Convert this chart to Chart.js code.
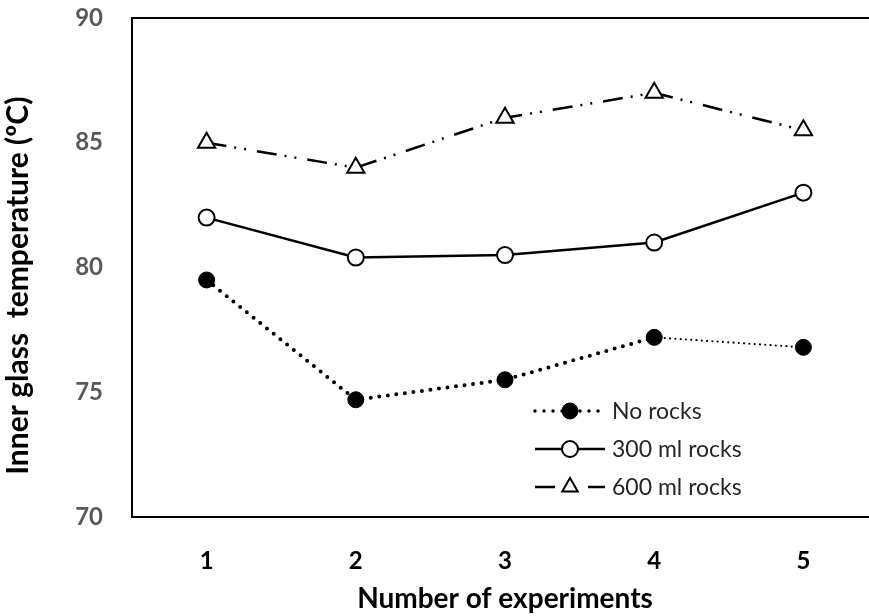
<!DOCTYPE html>
<html>
<head>
<meta charset="utf-8">
<script src="https://cdn.jsdelivr.net/npm/chart.js@4"></script>
<style>
  html, body { margin: 0; padding: 0; background: #fff; overflow: hidden; }
  #wrap { width: 878px; height: 616px; position: relative; }
</style>
</head>
<body>
<div id="wrap"><canvas id="chart"></canvas></div>
<script>
// data
const experiments = ['1', '2', '3', '4', '5'];
const noRocks = [79.5, 74.7, 75.5, 77.2, 76.8];
const rocks300 = [82.0, 80.4, 80.5, 81.0, 83.0];
const rocks600 = [85.0, 84.0, 86.0, 87.0, 85.5];
const seriesNames = ['No rocks', '300 ml rocks', '600 ml rocks'];
const yTicks = [70, 75, 80, 85, 90];

const font = "Lato, 'Open Sans', sans-serif";

// frame line along the top of the plot (right side is off screen)
const frame = {
  id: 'frame',
  afterDraw(chart) {
    const { ctx, chartArea: a } = chart;
    ctx.save();
    ctx.strokeStyle = '#000';
    ctx.lineWidth = 2;
    ctx.beginPath();
    ctx.moveTo(a.left - 1, a.top);
    ctx.lineTo(a.right + 2, a.top);
    ctx.stroke();
    ctx.restore();
  }
};

// legend drawn inside the plot, each row: line style + marker + label
const insideLegend = {
  id: 'insideLegend',
  afterDraw(chart) {
    const ctx = chart.ctx;
    const x0 = 535, x1 = 605, xm = 570, xt = 612;
    const rows = [411, 449, 487];
    chart.data.datasets.forEach((ds, i) => {
      const y = rows[i];
      ctx.save();
      ctx.strokeStyle = '#000';
      ctx.lineWidth = ds.legendWidth || ds.borderWidth;
      ctx.lineCap = ds.borderCapStyle || 'butt';
      ctx.setLineDash(ds.legendDash || ds.borderDash || []);
      ctx.beginPath();
      ctx.moveTo(x0, y);
      ctx.lineTo(x1, y);
      ctx.stroke();
      ctx.setLineDash([]);
      const r = ds.legendRadius || ds.pointRadius;
      ctx.fillStyle = ds.pointBackgroundColor;
      ctx.strokeStyle = '#000';
      ctx.lineWidth = ds.pointBorderWidth;
      ctx.beginPath();
      if (ds.pointStyle === 'triangle') {
        ctx.moveTo(xm, y - r);
        ctx.lineTo(xm + r * 0.866, y + r * 0.5);
        ctx.lineTo(xm - r * 0.866, y + r * 0.5);
        ctx.closePath();
      } else {
        ctx.arc(xm, y, r, 0, Math.PI * 2);
      }
      ctx.fill();
      ctx.stroke();
      ctx.fillStyle = '#262626';
      ctx.font = '23px ' + font;
      ctx.textBaseline = 'middle';
      ctx.fillText(ds.label, xt, y + 1);
      ctx.restore();
    });
  }
};

new Chart(document.getElementById('chart'), {
  type: 'line',
  data: {
    labels: experiments,
    datasets: [
      {
        label: seriesNames[0],
        data: noRocks,
        borderColor: '#000',
        borderWidth: 4,
        borderCapStyle: 'round',
        borderDash: [0, 8.6],
        legendDash: [0, 9],
        legendWidth: 3.5,
        segment: {
          borderWidth: c => c.p0DataIndex === 3 ? 2.2 : 4,
          borderDash: c => c.p0DataIndex === 3 ? [0, 5.3] : [0, 8.6]
        },
        pointStyle: 'circle',
        pointRadius: 8,
        pointBorderWidth: 1,
        pointBackgroundColor: '#000',
        pointBorderColor: '#000',
        tension: 0
      },
      {
        label: seriesNames[1],
        data: rocks300,
        borderColor: '#000',
        borderWidth: 2.5,
        borderDash: [],
        pointStyle: 'circle',
        pointRadius: 8,
        pointBorderWidth: 2,
        pointBackgroundColor: '#fff',
        pointBorderColor: '#000',
        tension: 0
      },
      {
        label: seriesNames[2],
        data: rocks600,
        borderColor: '#000',
        borderWidth: 2.5,
        borderDash: [20, 8, 2, 8, 2, 11],
        legendDash: [20, 33],
        legendRadius: 9,
        pointStyle: 'triangle',
        pointRadius: 10,
        pointBorderWidth: 2,
        pointBackgroundColor: '#fff',
        pointBorderColor: '#000',
        tension: 0
      }
    ]
  },
  options: {
    responsive: true,
    maintainAspectRatio: false,
    animation: false,
    layout: { autoPadding: false, padding: { top: 18, right: 0, bottom: 0, left: 0 } },
    plugins: {
      legend: { display: false },
      tooltip: { enabled: false }
    },
    scales: {
      x: {
        offset: true,
        grid: { display: false, drawTicks: false },
        border: { display: true, color: '#000', width: 2 },
        ticks: {
          color: '#000',
          font: { family: font, size: 24, weight: 'bold' },
          padding: 30
        },
        title: {
          display: true,
          text: 'Number of experiments',
          color: '#000',
          font: { family: font, size: 28, weight: 'bold' },
          padding: { top: 4, bottom: 0 }
        },
        afterFit: scale => { scale.height = 99; }
      },
      y: {
        min: 70,
        max: 90,
        afterBuildTicks: scale => { scale.ticks = yTicks.map(v => ({ value: v })); },
        grid: { display: false, drawTicks: false },
        border: { display: true, color: '#000', width: 2 },
        ticks: {
          color: '#595959',
          font: { family: font, size: 24, weight: 'bold' },
          padding: 29
        },
        title: {
          display: true,
          // trailing spaces move the text down to where the original sits
          text: 'Inner glass  temperature (ºC)\u00A0\u00A0\u00A0\u00A0\u00A0',
          color: '#000',
          font: { family: font, size: 30, weight: 'bold' },
          padding: { top: 0, bottom: 6 }
        },
        afterFit: scale => { scale.width = 132; scale.paddingTop = 0; scale.paddingBottom = 0; }
      }
    }
  },
  plugins: [frame, insideLegend]
});
</script>
</body>
</html>
